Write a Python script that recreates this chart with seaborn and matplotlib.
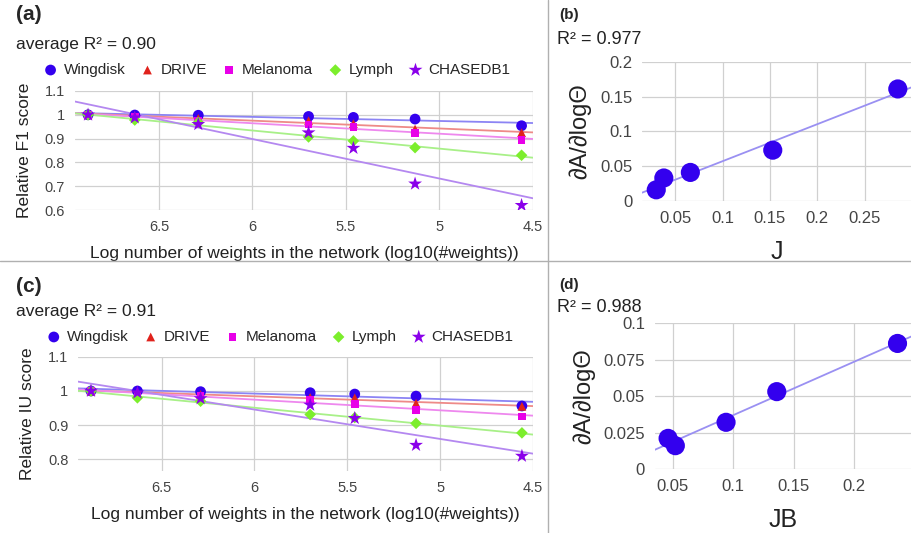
#!/usr/bin/env python3
"""Relative F1 / IU score vs. network size, and slope vs. J / JB."""

import matplotlib.pyplot as plt
import numpy as np
import pandas as pd
import seaborn as sns
from matplotlib.lines import Line2D
from matplotlib.ticker import FuncFormatter

sns.set_theme(style="white")
plt.rcParams['font.family'] = ['Liberation Sans', 'DejaVu Sans']

# Data
log_weights = [6.88, 6.63, 6.29, 5.70, 5.46, 5.13, 4.56]
datasets = ["Wingdisk", "DRIVE", "Melanoma", "Lymph", "CHASEDB1"]

f1_wingdisk = [1.0, 0.999, 0.998, 0.993, 0.989, 0.982, 0.954]
f1_drive = [1.0, 0.995, 0.985, 0.975, 0.963, 0.940, 0.925]
f1_melanoma = [1.0, 0.990, 0.975, 0.960, 0.949, 0.923, 0.895]
f1_lymph = [1.0, 0.978, 0.968, 0.907, 0.890, 0.862, 0.830]
f1_chasedb1 = [1.0, 0.988, 0.960, 0.925, 0.860, 0.710, 0.620]

iu_wingdisk = [1.0, 1.0, 0.998, 0.995, 0.991, 0.985, 0.956]
iu_drive = [1.0, 0.995, 0.990, 0.981, 0.980, 0.964, 0.955]
iu_melanoma = [1.0, 0.990, 0.985, 0.974, 0.962, 0.944, 0.925]
iu_lymph = [1.0, 0.980, 0.970, 0.931, 0.922, 0.905, 0.877]
iu_chasedb1 = [1.0, 0.995, 0.978, 0.959, 0.920, 0.841, 0.809]

j_vals = [0.030, 0.038, 0.066, 0.153, 0.285]
slope_j = [0.016, 0.033, 0.041, 0.073, 0.161]
jb_vals = [0.046, 0.052, 0.094, 0.136, 0.236]
slope_jb = [0.021, 0.016, 0.032, 0.053, 0.086]

MARKERS = ["o", "^", "s", "D", "*"]
SIZES = [60, 40, 30, 35, 110]
COLORS = ["#3300ee", "#e0221c", "#e800e8", "#7cee2c", "#8a00ea"]
LINE_COLORS = ["#8c84f4", "#ee8a88", "#ee88ee", "#a8f088", "#b488f0"]
GRID = "#d0d0d0"
TICK = "#444444"
TEXT = "#222222"
FMT = FuncFormatter(lambda v, p: f"{v:g}")


def style_axes(ax, fs, pad):
    ax.grid(True, color=GRID, lw=0.9)
    ax.set_axisbelow(True)
    for s in ax.spines.values():
        s.set_visible(False)
    ax.tick_params(length=0, labelsize=fs, labelcolor=TICK, pad=pad)
    ax.xaxis.set_major_formatter(FMT)
    ax.yaxis.set_major_formatter(FMT)


def score_panel(fig, rect, series, ylim, yticks, ylabel, tag, r2, tag_y,
                r2_y, leg_y):
    ax = fig.add_axes(rect)
    ax.set_xlim(6.95, 4.5)
    ax.set_ylim(*ylim)
    for vals, lcolor in zip(series, LINE_COLORS):
        df = pd.DataFrame({"x": log_weights, "y": vals})
        sns.regplot(data=df, x="x", y="y", ax=ax, scatter=False, ci=None,
                    truncate=False, line_kws={"color": lcolor, "lw": 1.3})
    for vals, name, m, s, color in zip(series, datasets, MARKERS, SIZES,
                                        COLORS):
        df = pd.DataFrame({"x": log_weights, "y": vals})
        sns.scatterplot(data=df, x="x", y="y", ax=ax, marker=m, s=s,
                        color=color, edgecolor="none", label=name, zorder=3)
    ax.set_xlim(6.95, 4.5)
    ax.set_ylim(*ylim)
    ax.set_xticks([6.5, 6, 5.5, 5, 4.5])
    ax.set_yticks(yticks)
    style_axes(ax, 10.5, 7)
    ax.set_xlabel("Log number of weights in the network (log10(#weights))",
                  fontsize=12.5, color=TEXT, labelpad=9)
    ax.set_ylabel(ylabel, fontsize=12.5, color=TEXT, labelpad=9)
    ax.legend(loc="center left", bbox_to_anchor=(-0.085, leg_y), ncol=5,
              frameon=False, fontsize=11, handlelength=0.9,
              handletextpad=0.4, columnspacing=1.0, borderpad=0)
    fig.text(0.018, tag_y, tag, fontsize=15, fontweight="bold",
             va="center", ha="left")
    fig.text(0.018, r2_y, f"average R\u00b2 = {r2}", fontsize=12.5,
             va="center", ha="left", color=TEXT)
    return ax


def slope_panel(fig, rect, x, y, xlim, ylim, xticks, yticks, xlabel, tag,
                r2, tag_y, r2_y):
    ax = fig.add_axes(rect)
    ax.set_xlim(*xlim)
    ax.set_ylim(*ylim)
    df = pd.DataFrame({"x": x, "y": y})
    sns.regplot(data=df, x="x", y="y", ax=ax, scatter=False, ci=None,
                truncate=False, line_kws={"color": "#9a90f2", "lw": 1.3})
    sns.scatterplot(data=df, x="x", y="y", ax=ax, s=190, color="#3300ee",
                    edgecolor="none", zorder=3)
    ax.set_xlim(*xlim)
    ax.set_ylim(*ylim)
    ax.set_xticks(xticks)
    ax.set_yticks(yticks)
    style_axes(ax, 12, 7)
    ax.set_xlabel(xlabel, fontsize=18, color=TEXT, labelpad=10)
    ax.set_ylabel("\u2202A/\u2202log\u0398", fontsize=17, color=TEXT,
                  labelpad=6)
    fig.text(0.613, tag_y, tag, fontsize=11, fontweight="bold",
             va="center", ha="left")
    fig.text(0.611, r2_y, f"R\u00b2 = {r2}", fontsize=13,
             va="center", ha="left", color=TEXT)
    return ax


fig = plt.figure(figsize=(9.12, 5.33), dpi=100)

score_panel(fig, [0.0822, 0.606, 0.502, 0.2233],
            [f1_wingdisk, f1_drive, f1_melanoma, f1_lymph, f1_chasedb1],
            (0.6, 1.1), [0.6, 0.7, 0.8, 0.9, 1, 1.1],
            "Relative F1 score", "(a)", "0.90", 0.972, 0.916, 1.176)
score_panel(fig, [0.0855, 0.1163, 0.499, 0.214],
            [iu_wingdisk, iu_drive, iu_melanoma, iu_lymph, iu_chasedb1],
            (0.765, 1.1), [0.8, 0.9, 1, 1.1],
            "Relative IU score", "(c)", "0.91", 0.462, 0.415, 1.175)
slope_panel(fig, [0.704, 0.623, 0.296, 0.261], j_vals, slope_j,
            (0.015, 0.3), (0, 0.2), [0.05, 0.1, 0.15, 0.2, 0.25],
            [0, 0.05, 0.1, 0.15, 0.2], "J", "(b)", "0.977", 0.972, 0.925)
slope_panel(fig, [0.718, 0.120, 0.282, 0.274], jb_vals, slope_jb,
            (0.035, 0.248), (0, 0.1), [0.05, 0.1, 0.15, 0.2],
            [0, 0.025, 0.05, 0.075, 0.1], "JB", "(d)", "0.988", 0.465,
            0.424)

# Panel dividers
fig.add_artist(Line2D([0.601, 0.601], [0, 1], color="#b0b0b0", lw=1,
                      transform=fig.transFigure))
fig.add_artist(Line2D([0, 1], [0.51, 0.51], color="#b0b0b0", lw=1,
                      transform=fig.transFigure))

fig.savefig("out.png", dpi=100)
